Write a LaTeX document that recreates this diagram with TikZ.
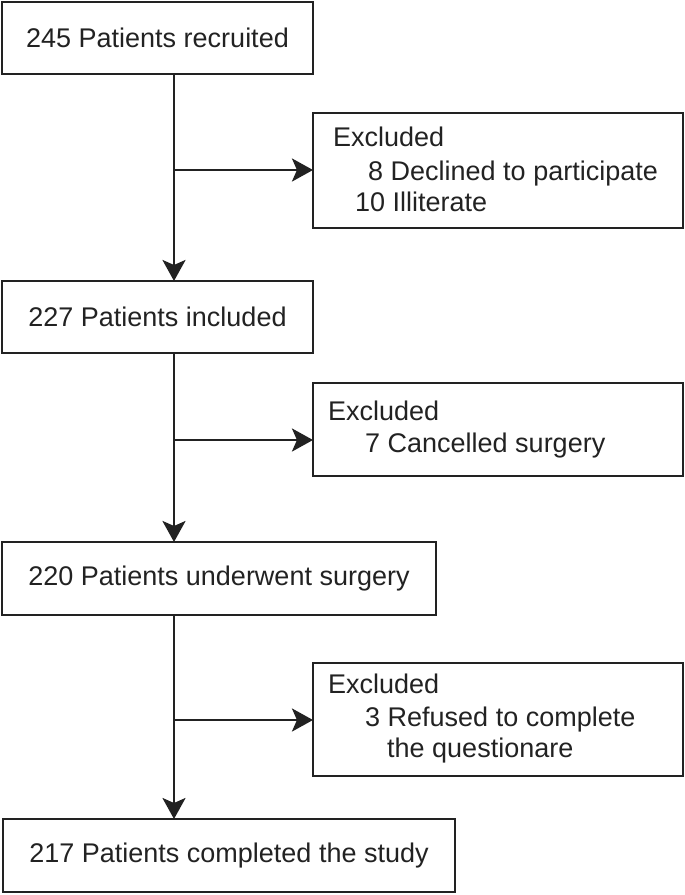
\documentclass[tikz,border=0pt]{standalone}
\usepackage{fontspec}
\setmainfont{Liberation Sans}
\usetikzlibrary{arrows.meta}
\definecolor{ink}{HTML}{222222}
\begin{document}
\begin{tikzpicture}[x=1bp,y=-1bp,
  every node/.style={font=\fontsize{27bp}{32bp}\selectfont, text=ink},
  mainbox/.style={draw=ink, line width=2.8bp, inner sep=0pt, outer sep=0pt},
  exbox/.style={draw=ink, line width=2.8bp, inner sep=0pt, outer sep=0pt, minimum width=370bp},
  lbl/.style={anchor=base west, inner sep=0pt},
  conn/.style={draw=ink, line width=2.8bp},
  arr/.style={conn, -{Stealth[length=21bp,width=23bp,inset=5bp]}}]
\useasboundingbox (0,0) rectangle (685,895);
% main boxes
\node[mainbox, minimum width=311bp, minimum height=72bp] (b1) at (157.5,38) {245 Patients recruited};
\node[mainbox, minimum width=311bp, minimum height=72bp] (b2) at (157.5,317) {227 Patients included};
\node[mainbox, minimum width=434bp, minimum height=73bp] (b3) at (219,578.5) {220 Patients underwent surgery};
\node[mainbox, minimum width=452bp, minimum height=73bp] (b4) at (229,855.5) {217 Patients completed the study};
% excluded boxes
\node[exbox, minimum height=115bp] (e1) at (498,170.5) {};
\node[lbl] (e1a) at (333,146) {Excluded};
\node[lbl] (e1b) at (368,180) {8 Declined to participate};
\node[lbl] (e1c) at (355,211) {10 Illiterate};
\node[exbox, minimum height=93bp] (e2) at (498,429.5) {};
\node[lbl] (e2a) at (328,420) {Excluded};
\node[lbl] (e2b) at (365,452) {7 Cancelled surgery};
\node[exbox, minimum height=113bp] (e3) at (498,719.5) {};
\node[lbl] (e3a) at (328,693) {Excluded};
\node[lbl] (e3b) at (365,726) {3 Refused to complete};
\node[lbl] (e3c) at (387,757) {the questionare};
% branch points
\coordinate (j1) at (174,170);
\coordinate (j2) at (174,440);
\coordinate (j3) at (174,720);
% connectors
\draw[arr] (b1.south -| j1) -- (b2.north -| j1);
\draw[arr] (b2.south -| j2) -- (b3.north -| j2);
\draw[arr] (b3.south -| j3) -- (b4.north -| j3);
\draw[arr] (j1) -- (e1.west |- j1);
\draw[arr] (j2) -- (e2.west |- j2);
\draw[arr] (j3) -- (e3.west |- j3);
\end{tikzpicture}
\end{document}
